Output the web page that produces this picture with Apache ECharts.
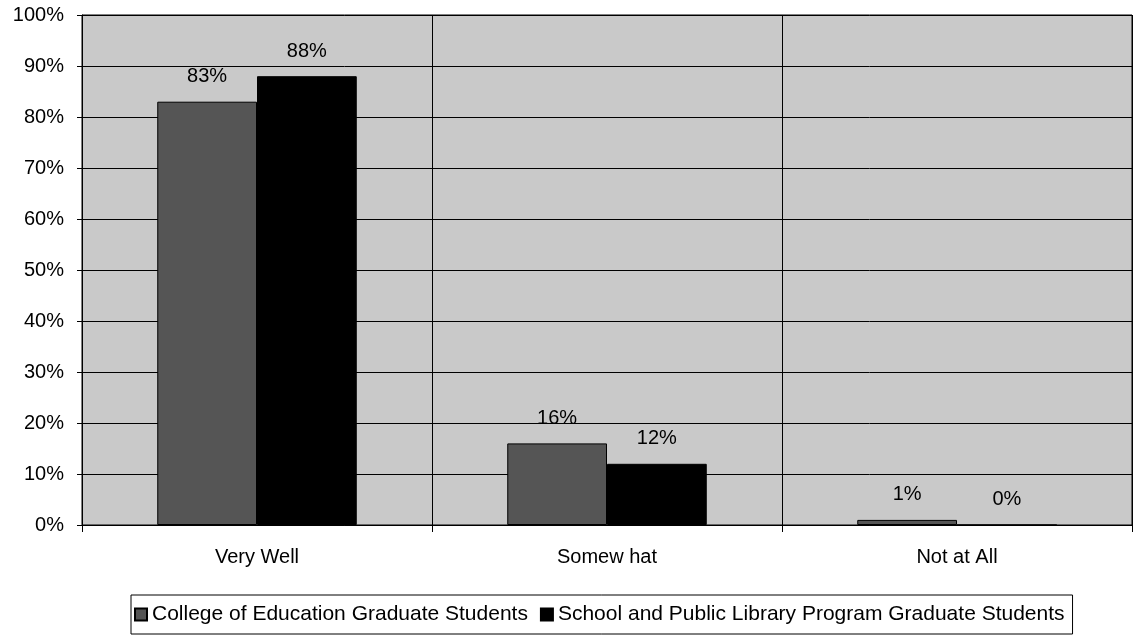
<!DOCTYPE html>
<html>
<head>
<meta charset="utf-8">
<script src="https://cdn.jsdelivr.net/npm/echarts@6/dist/echarts.min.js"></script>
<style>
  html, body { margin: 0; padding: 0; background: #fff; }
  #chart { width: 1134px; height: 640px; }
</style>
</head>
<body>
<div id="chart"></div>
<script>
// Survey responses, shares in percent
const categories = ['Very Well', 'Somew hat', 'Not at All'];
const seriesNames = ['College of Education Graduate Students', 'School and Public Library Program Graduate Students'];
const collegeValues = [83, 16, 1];
const libraryValues = [88, 12, 0];

const FONT = '"Liberation Sans", Arial, sans-serif';

const chart = echarts.init(document.getElementById('chart'), null, { renderer: 'canvas' });

const labelStyle = {
  show: true,
  position: 'top',
  distance: 15,
  formatter: p => p.value + '%',
  fontFamily: FONT,
  fontSize: 20,
  color: '#000'
};

chart.setOption({
  animation: false,
  backgroundColor: '#fff',
  grid: {
    left: 82, right: 2, top: 15, bottom: 115,
    show: true,
    backgroundColor: '#c9c9c9',
    borderColor: '#000',
    borderWidth: 1
  },
  legend: {
    left: 131,
    top: 595,
    padding: [9, 8, 9, 3],
    borderColor: '#000',
    borderWidth: 1,
    itemWidth: 12,
    itemHeight: 12,
    itemGap: 12,
    icon: 'rect',
    textStyle: { fontFamily: FONT, fontSize: 21, color: '#000' },
    data: seriesNames
  },
  xAxis: {
    type: 'category',
    data: categories,
    axisLine: { lineStyle: { color: '#000', width: 1 } },
    axisTick: { show: true, length: 7, lineStyle: { color: '#000' } },
    splitLine: { show: true, lineStyle: { color: '#000', width: 1 } },
    axisLabel: { fontFamily: FONT, fontSize: 20, color: '#000', margin: 22 }
  },
  yAxis: {
    type: 'value',
    min: 0,
    max: 100,
    interval: 10,
    axisLine: { show: true, lineStyle: { color: '#000' } },
    axisTick: { show: true, length: 5, lineStyle: { color: '#000' } },
    splitLine: { show: true, lineStyle: { color: '#000', width: 1 } },
    axisLabel: { formatter: '{value}%', fontFamily: FONT, fontSize: 20, color: '#000', margin: 18 }
  },
  series: [
    {
      name: seriesNames[0],
      type: 'bar',
      data: collegeValues,
      barGap: '0%',
      barCategoryGap: '43%',
      itemStyle: { color: '#555555', borderColor: '#000', borderWidth: 1 },
      label: labelStyle
    },
    {
      name: seriesNames[1],
      type: 'bar',
      data: libraryValues,
      itemStyle: { color: '#000000', borderColor: '#000', borderWidth: 1 },
      label: labelStyle
    }
  ]
});
</script>
</body>
</html>
